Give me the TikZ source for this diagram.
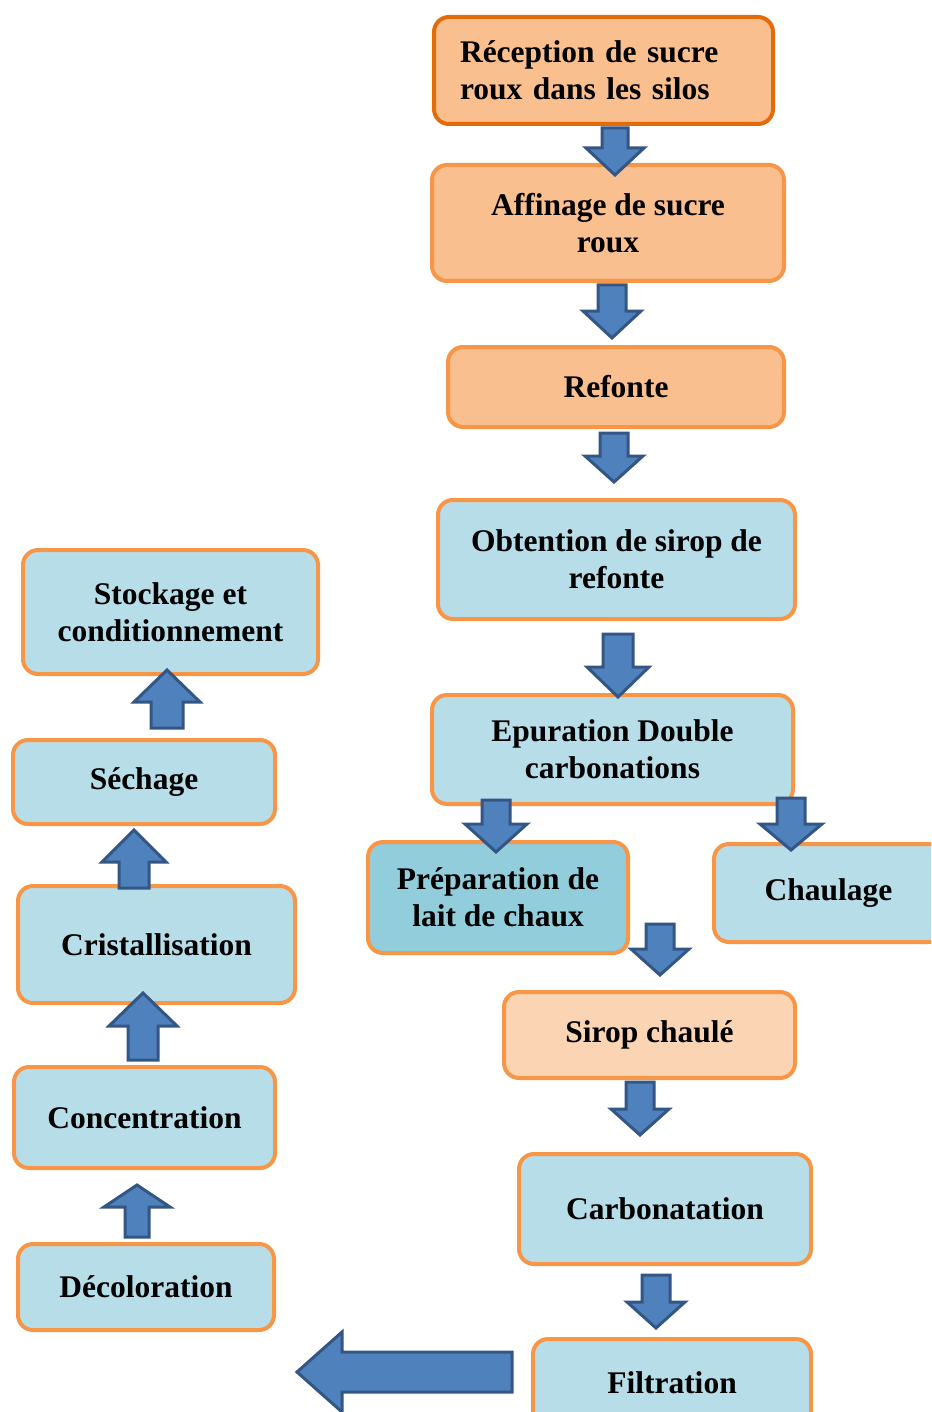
\documentclass[tikz,border=0pt]{standalone}
\usepackage{fontspec}
\setmainfont{Liberation Serif}
\usetikzlibrary{calc}

\definecolor{peach}{HTML}{FABF8F}
\definecolor{peachlight}{HTML}{FBD4B4}
\definecolor{orangedark}{HTML}{E36C09}
\definecolor{orangeline}{HTML}{F79646}
\definecolor{bluelight}{HTML}{B7DDE8}
\definecolor{bluemid}{HTML}{92CDDC}
\definecolor{arrowfill}{HTML}{4F81BD}
\definecolor{arrowline}{HTML}{345684}

% vertical block arrow: x, from, to, half shaft, half head, head length (signed)
\newcommand{\blkv}[6]{%
  \draw[blk] let \p1=(#2), \p2=(#3) in
    (#1pt-#4pt,\y1) -- (#1pt-#4pt,\y2+#6pt) -- (#1pt-#5pt,\y2+#6pt) -- (#1pt,\y2)
    -- (#1pt+#5pt,\y2+#6pt) -- (#1pt+#4pt,\y2+#6pt) -- (#1pt+#4pt,\y1) -- cycle;}

\begin{document}
\begin{tikzpicture}[x=1pt,y=1pt,
    box/.style={draw=orangeline,line width=4pt,rounded corners=15pt,
      inner sep=0pt,align=center,text=black,
      font=\fontsize{31.5}{37}\selectfont\bfseries},
    rose/.style={box,fill=peach},
    bleu/.style={box,fill=bluelight},
    blk/.style={fill=arrowfill,draw=arrowline,line width=3pt,line join=miter}]
  \useasboundingbox (0,0) rectangle (931,-1412);
  \clip (0,0) rectangle (931,-1412);

  % colonne de droite
  \node[rose,draw=orangedark,minimum width=339,minimum height=107,
    text width=287,align=left]
    (rec) at (603.5,-70.5) {R\'eception de sucre\\roux dans les silos};
  \node[rose,minimum width=352,minimum height=116] (aff) at (608,-223) {Affinage de sucre\\roux};
  \node[rose,minimum width=336,minimum height=80] (ref) at (616,-387) {Refonte};
  \node[bleu,minimum width=357,minimum height=119] (obt) at (616.5,-559.5) {Obtention de sirop de\\refonte};
  \node[bleu,minimum width=361,minimum height=109] (epu) at (612.5,-749.5) {Epuration Double\\carbonations};
  \node[bleu,fill=bluemid,minimum width=260,minimum height=111] (prep) at (498,-897.5) {Pr\'eparation de\\lait de chaux};
  \node[bleu,minimum width=229,minimum height=98] (chau) at (828.5,-893) {Chaulage};
  \node[rose,fill=peachlight,minimum width=291,minimum height=86] (sir) at (649.5,-1035) {Sirop chaul\'e};
  \node[bleu,minimum width=292,minimum height=110] (carb) at (665,-1209) {Carbonatation};
  \node[bleu,minimum width=278,minimum height=88] (filt) at (672,-1383) {Filtration};

  % colonne de gauche
  \node[bleu,minimum width=295,minimum height=124] (sto) at (170.5,-612) {Stockage et\\conditionnement};
  \node[bleu,minimum width=262,minimum height=84] (sec) at (144,-782) {S\'echage};
  \node[bleu,minimum width=277,minimum height=117] (cri) at (156.5,-944.5) {Cristallisation};
  \node[bleu,minimum width=261,minimum height=101] (con) at (144.5,-1117.5) {Concentration};
  \node[bleu,minimum width=256,minimum height=86] (dec) at (146,-1287) {D\'ecoloration};

  \coordinate (a7) at (660,-924);
  \coordinate (lt) at (297,-1372);

  % fleches
  \blkv{615}{[yshift=-2pt]rec.south}{[yshift=-12pt]aff.north}{13}{29}{27}
  \blkv{612}{[yshift=-2pt]aff.south}{[yshift=7pt]ref.north}{14}{29}{27}
  \blkv{614}{[yshift=-4pt]ref.south}{[yshift=16pt]obt.north}{14}{29}{26}
  \blkv{618}{[yshift=-13pt]obt.south}{[yshift=-4pt]epu.north}{15}{31}{30}
  \blkv{496}{[yshift=6pt]epu.south}{[yshift=-12pt]prep.north}{14}{31}{28}
  \blkv{791}{[yshift=8pt]epu.south}{[yshift=-8pt]chau.north}{14}{31}{26}
  \blkv{660}{a7}{[yshift=15pt]sir.north}{14}{29}{26}
  \blkv{640}{[yshift=-2pt]sir.south}{[yshift=17pt]carb.north}{14}{29}{26}
  \blkv{656}{[yshift=-9pt]carb.south}{[yshift=9pt]filt.north}{14}{29}{26}

  \blkv{167}{[yshift=10pt]sec.north}{[yshift=6pt]sto.south}{16}{33}{-32}
  \blkv{134}{[yshift=-4pt]cri.north}{[yshift=-4pt]sec.south}{15}{32}{-32}
  \blkv{143}{[yshift=5pt]con.north}{[yshift=12pt]cri.south}{15}{34}{-33}
  \blkv{137}{[yshift=5pt]dec.north}{[yshift=-15pt]con.south}{12}{33}{-22}

  \draw[blk] let \p1=([xshift=-19pt]filt.west |- lt), \p2=(lt) in
    (\x1,\y1+20pt) -- (\x2+45pt,\y1+20pt) -- (\x2+45pt,\y1+40pt) -- (\x2,\y1)
    -- (\x2+45pt,\y1-40pt) -- (\x2+45pt,\y1-20pt) -- (\x1,\y1-20pt) -- cycle;
\end{tikzpicture}
\end{document}
